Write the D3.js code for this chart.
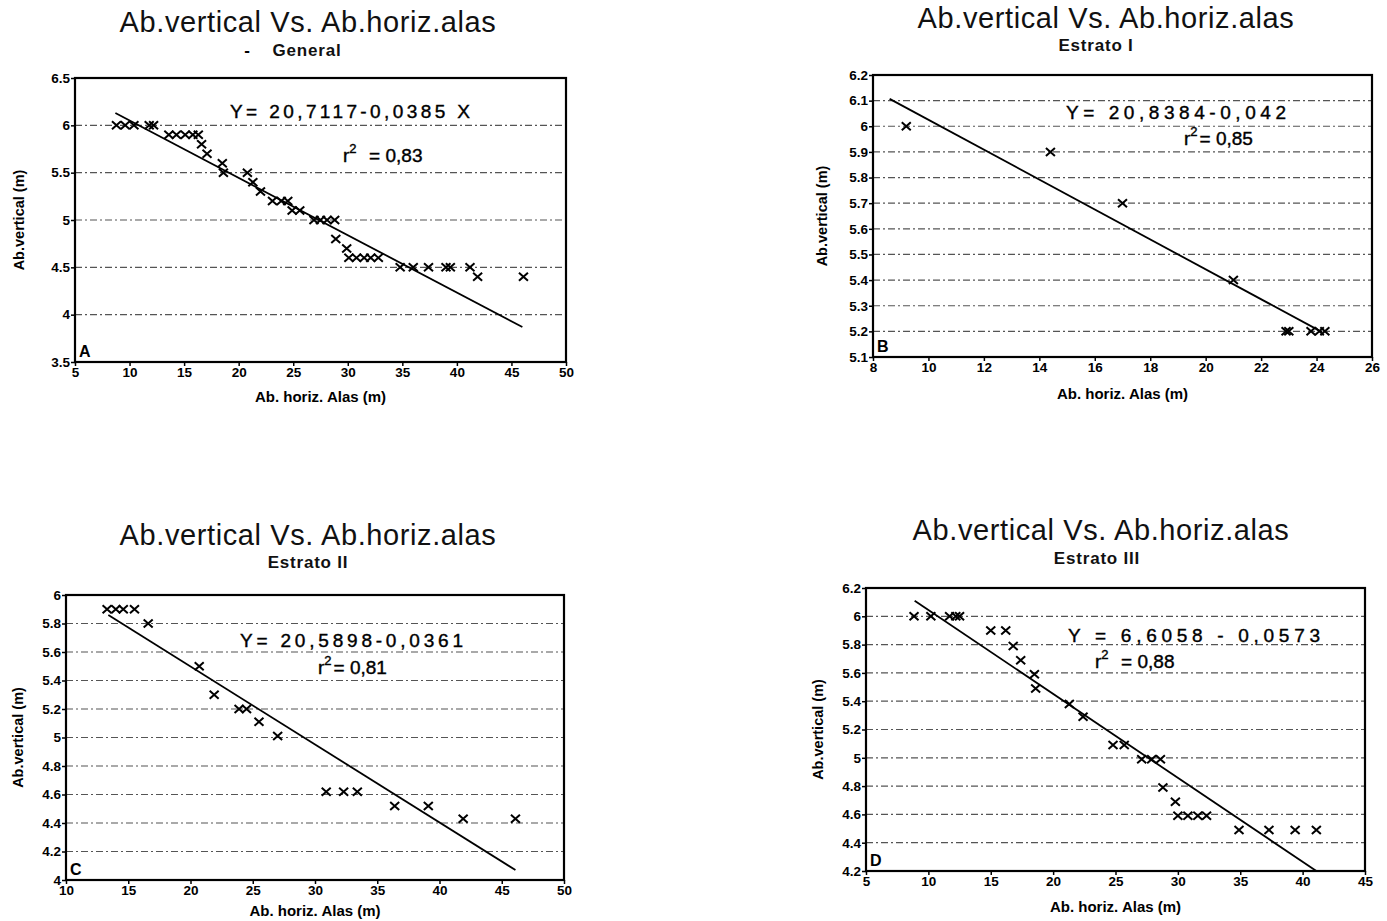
<!DOCTYPE html>
<html>
<head>
<meta charset="utf-8">
<script src="https://cdn.jsdelivr.net/npm/d3@7"></script>
<style>
  body { margin: 0; background: #fff; }
  text { font-family: "Liberation Sans", Arial, sans-serif; }
</style>
</head>
<body>
<div id="chart"></div>
<script>
// --- data ---
const generalX = [8.8, 9.6, 10.4, 11.8, 12.2, 13.6, 14.3, 15.1, 15.8, 16.3, 16.6, 17.1, 18.5, 18.6, 20.8, 21.3, 22.0,
    23.1, 23.9, 24.5, 24.9, 25.6, 26.9, 27.5, 28.1, 28.8, 28.9, 29.9, 30.1, 30.8, 31.5, 32.1, 32.8,
    34.8, 36.0, 37.4, 39.0, 39.4, 41.2, 41.9, 46.1];
const generalY = [6.0, 6.0, 6.0, 6.0, 6.0, 5.9, 5.9, 5.9, 5.9, 5.9, 5.8, 5.7, 5.6, 5.5, 5.5, 5.4, 5.3,
    5.2, 5.2, 5.2, 5.1, 5.1, 5.0, 5.0, 5.0, 5.0, 4.8, 4.7, 4.6, 4.6, 4.6, 4.6, 4.6,
    4.5, 4.5, 4.5, 4.5, 4.5, 4.5, 4.4, 4.4];
const generalLineX = [8.7, 46.0];
const generalLineY = [6.13, 3.87];

const estrato1X = [9.2, 14.4, 17.0, 21.0, 22.9, 23.0, 23.8, 24.1, 24.3];
const estrato1Y = [6.0, 5.9, 5.7, 5.4, 5.2, 5.2, 5.2, 5.2, 5.2];
const estrato1LineX = [8.6, 24.2];
const estrato1LineY = [6.107, 5.197];

const estrato2X = [13.3, 14.0, 14.6, 15.5, 16.6, 20.7, 21.9, 23.9, 24.5, 25.5, 27.0, 30.9, 32.3, 33.4, 36.4, 39.1, 41.9, 46.1];
const estrato2Y = [5.9, 5.9, 5.9, 5.9, 5.8, 5.5, 5.3, 5.2, 5.2, 5.11, 5.01, 4.62, 4.62, 4.62, 4.52, 4.52, 4.43, 4.43];
const estrato2LineX = [13.4, 46.1];
const estrato2LineY = [5.86, 4.07];

const estrato3X = [8.85, 10.2, 11.7, 12.2, 12.5, 15.0, 16.2, 16.8, 17.4, 18.5, 18.6, 21.3, 22.4, 24.8, 25.7,
    27.1, 27.9, 28.6, 28.8, 29.8, 30.0, 30.8, 31.6, 32.3, 34.9, 37.3, 39.4, 41.1];
const estrato3Y = [6.0, 6.0, 6.0, 6.0, 6.0, 5.9, 5.9, 5.79, 5.69, 5.59, 5.49, 5.38, 5.29, 5.09, 5.09,
    4.99, 4.99, 4.99, 4.79, 4.69, 4.59, 4.59, 4.59, 4.59, 4.49, 4.49, 4.49, 4.49];
const estrato3LineX = [8.9, 41.1];
const estrato3LineY = [6.11, 4.2];

const xTicksA = [5, 10, 15, 20, 25, 30, 35, 40, 45, 50];
const yTicksA = [3.5, 4, 4.5, 5, 5.5, 6, 6.5];
const xTicksB = [8, 10, 12, 14, 16, 18, 20, 22, 24, 26];
const yTicksB = [5.1, 5.2, 5.3, 5.4, 5.5, 5.6, 5.7, 5.8, 5.9, 6, 6.1, 6.2];
const xTicksC = [10, 15, 20, 25, 30, 35, 40, 45, 50];
const yTicksC = [4, 4.2, 4.4, 4.6, 4.8, 5, 5.2, 5.4, 5.6, 5.8, 6];
const xTicksD = [5, 10, 15, 20, 25, 30, 35, 40, 45];
const yTicksD = [4.2, 4.4, 4.6, 4.8, 5, 5.2, 5.4, 5.6, 5.8, 6, 6.2];

const title = 'Ab.vertical Vs. Ab.horiz.alas';
const subtitles = ['General', 'Estrato I', 'Estrato II', 'Estrato III'];
const equations = ['Y= 20,7117-0,0385 X', 'Y= 20,8384-0,042', 'Y= 20,5898-0,0361', 'Y = 6,6058 - 0,0573'];
const r2Values = ['0,83', '0,85', '0,81', '0,88'];
const letters = ['A', 'B', 'C', 'D'];

// --- layout ---
const width = 1387;
const height = 921;

const panels = [
    {
        xs: generalX, ys: generalY, lx: generalLineX, ly: generalLineY,
        xTicks: xTicksA, yTicks: yTicksA,
        box: { left: 75, right: 566, top: 78, bottom: 362 },
        titleX: 308, titleY: 32, subX: 307, subY: 56, dash: 247,
        eq: { x: 230, y: 118, w: 240 }, r2: { x: 343, y: 162, gap: '  ' },
        yLabelX: 24, xLabelY: 402
    },
    {
        xs: estrato1X, ys: estrato1Y, lx: estrato1LineX, ly: estrato1LineY,
        xTicks: xTicksB, yTicks: yTicksB,
        box: { left: 873, right: 1372, top: 75, bottom: 357 },
        titleX: 1106, titleY: 28, subX: 1096, subY: 51,
        eq: { x: 1066, y: 119, w: 220 }, r2: { x: 1184, y: 145, gap: '' },
        yLabelX: 827, xLabelY: 399
    },
    {
        xs: estrato2X, ys: estrato2Y, lx: estrato2LineX, ly: estrato2LineY,
        xTicks: xTicksC, yTicks: yTicksC,
        box: { left: 66, right: 564, top: 595, bottom: 880 },
        titleX: 308, titleY: 545, subX: 308, subY: 568,
        eq: { x: 240, y: 647, w: 223 }, r2: { x: 318, y: 674, gap: '' },
        yLabelX: 23, xLabelY: 916
    },
    {
        xs: estrato3X, ys: estrato3Y, lx: estrato3LineX, ly: estrato3LineY,
        xTicks: xTicksD, yTicks: yTicksD,
        box: { left: 866, right: 1365, top: 588, bottom: 871 },
        titleX: 1101, titleY: 540, subX: 1097, subY: 564,
        eq: { x: 1068, y: 642, w: 252 }, r2: { x: 1095, y: 668, gap: '  ' },
        yLabelX: 823, xLabelY: 912
    }
];

const svg = d3.select('#chart').append('svg')
    .attr('width', width)
    .attr('height', height);

const fmt = d => String(d);

panels.forEach((p, i) => {
    const b = p.box;
    const x = d3.scaleLinear().domain(d3.extent(p.xTicks)).range([b.left, b.right]);
    const y = d3.scaleLinear().domain(d3.extent(p.yTicks)).range([b.bottom, b.top]);
    const g = svg.append('g');

    // titles
    g.append('text')
        .attr('x', p.titleX).attr('y', p.titleY)
        .attr('text-anchor', 'middle')
        .attr('font-size', '29px')
        .attr('letter-spacing', '0.6px')
        .attr('fill', '#111')
        .text(title);
    g.append('text')
        .attr('x', p.subX).attr('y', p.subY)
        .attr('text-anchor', 'middle')
        .attr('font-size', '17px')
        .attr('font-weight', 'bold')
        .attr('letter-spacing', '0.8px')
        .attr('fill', '#111')
        .text(subtitles[i]);
    if (p.dash) {
        g.append('text')
            .attr('x', p.dash).attr('y', p.subY)
            .attr('text-anchor', 'middle')
            .attr('font-size', '17px')
            .attr('font-weight', 'bold')
            .text('-');
    }

    // gridlines on the inner ticks
    g.append('g').selectAll('line')
        .data(p.yTicks.slice(1, -1))
        .enter().append('line')
        .attr('x1', b.left).attr('x2', b.right)
        .attr('y1', d => y(d)).attr('y2', d => y(d))
        .attr('stroke', '#555')
        .attr('stroke-width', 1.2)
        .attr('stroke-dasharray', '7,3,2,3');

    // axes
    const xAxis = g.append('g')
        .attr('transform', `translate(0,${b.bottom})`)
        .call(d3.axisBottom(x).tickValues(p.xTicks).tickFormat(fmt).tickSize(4).tickPadding(1));
    const yAxis = g.append('g')
        .attr('transform', `translate(${b.left},0)`)
        .call(d3.axisLeft(y).tickValues(p.yTicks).tickFormat(fmt).tickSize(4).tickPadding(1));
    [xAxis, yAxis].forEach(a => {
        a.select('.domain').remove();
        a.selectAll('line').attr('stroke', '#000').attr('stroke-width', 1.5);
        a.selectAll('text')
            .attr('font-family', '"Liberation Sans", Arial, sans-serif')
            .attr('font-size', '13.5px')
            .attr('font-weight', 'bold')
            .attr('fill', '#000');
    });

    // plot frame
    g.append('rect')
        .attr('x', b.left).attr('y', b.top)
        .attr('width', b.right - b.left).attr('height', b.bottom - b.top)
        .attr('fill', 'none')
        .attr('stroke', '#000')
        .attr('stroke-width', 2.2);

    // axis titles
    g.append('text')
        .attr('transform', `translate(${p.yLabelX},${(b.top + b.bottom) / 2}) rotate(-90)`)
        .attr('text-anchor', 'middle')
        .attr('font-size', '14.5px')
        .attr('font-weight', 'bold')
        .text('Ab.vertical (m)');
    g.append('text')
        .attr('x', (b.left + b.right) / 2).attr('y', p.xLabelY)
        .attr('text-anchor', 'middle')
        .attr('font-size', '15px')
        .attr('font-weight', 'bold')
        .text('Ab. horiz. Alas (m)');

    // regression line
    const lineData = p.lx.map((v, k) => [v, p.ly[k]]);
    g.append('path')
        .datum(lineData)
        .attr('d', d3.line().x(d => x(d[0])).y(d => y(d[1])))
        .attr('fill', 'none')
        .attr('stroke', '#000')
        .attr('stroke-width', 1.8);

    // points
    const pts = p.xs.map((v, k) => [v, p.ys[k]]);
    g.append('g').selectAll('path')
        .data(pts)
        .enter().append('path')
        .attr('transform', d => `translate(${x(d[0])},${y(d[1])})`)
        .attr('d', 'M-4.5,-4L4.5,4M4.5,-4L-4.5,4')
        .attr('stroke', '#000')
        .attr('stroke-width', 2);

    // equation and r2
    g.append('text')
        .attr('x', p.eq.x).attr('y', p.eq.y)
        .attr('font-family', '"DejaVu Sans", sans-serif')
        .attr('font-size', '19px')
        .attr('stroke', '#000')
        .attr('stroke-width', 0.4)
        .attr('textLength', p.eq.w)
        .attr('lengthAdjust', 'spacing')
        .text(equations[i]);
    const r = g.append('text')
        .attr('x', p.r2.x).attr('y', p.r2.y)
        .attr('font-family', '"DejaVu Sans", sans-serif')
        .attr('font-size', '19px')
        .attr('stroke', '#000')
        .attr('stroke-width', 0.4)
        .attr('xml:space', 'preserve')
        .style('white-space', 'pre');
    r.append('tspan').text('r');
    r.append('tspan').attr('dy', -9).attr('font-size', '13px').text('2');
    r.append('tspan').attr('dy', 9).attr('dx', 2)
        .text(p.r2.gap + '= ' + r2Values[i]);

    // panel letter
    g.append('text')
        .attr('x', b.left + 4).attr('y', b.bottom - 5)
        .attr('font-size', '16px')
        .attr('font-weight', 'bold')
        .text(letters[i]);
});
</script>
</body>
</html>
